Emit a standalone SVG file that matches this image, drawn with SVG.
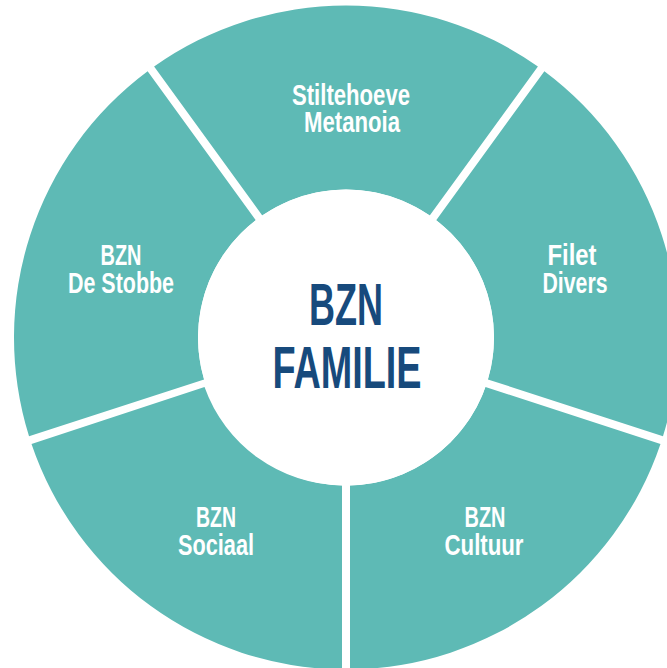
<svg xmlns="http://www.w3.org/2000/svg" width="667" height="668" viewBox="0 0 667 668">
  <style>
    .seg { fill: #5ebab5; }
    .lbl { font-family: "Liberation Sans Narrow", "Liberation Sans", Arial, sans-serif; font-weight: bold; font-size: 30px; fill: #ffffff; text-anchor: middle; }
    .hub { font-family: "Liberation Sans Narrow", "Liberation Sans", Arial, sans-serif; font-weight: bold; font-size: 59px; fill: #174a7c; text-anchor: middle; }
  </style>
  <rect width="667" height="668" fill="#ffffff"/>

  <!-- ring segments: centre (346,337.5), outer r 332, inner r 148, 8px gaps -->
  <g id="stiltehoeve-metanoia">
    <path class="seg" d="M154.10,66.58 A332,332 0 0 1 537.90,66.58 L429.72,215.46 A148,148 0 0 0 262.28,215.46 Z"/>
    <text class="lbl" x="351" y="105" textLength="118" lengthAdjust="spacingAndGlyphs">Stiltehoeve</text>
    <text class="lbl" x="352" y="132" textLength="96" lengthAdjust="spacingAndGlyphs">Metanoia</text>
  </g>
  <g id="filet-divers">
    <path class="seg" d="M544.37,71.28 A332,332 0 0 1 662.96,436.28 L487.94,379.41 A148,148 0 0 0 436.20,220.16 Z"/>
    <text class="lbl" x="572" y="265" textLength="49" lengthAdjust="spacingAndGlyphs">Filet</text>
    <text class="lbl" x="575" y="293" textLength="65" lengthAdjust="spacingAndGlyphs">Divers</text>
  </g>
  <g id="bzn-cultuur">
    <path class="seg" d="M660.49,443.89 A332,332 0 0 1 350.00,669.48 L350.00,485.45 A148,148 0 0 0 485.47,387.02 Z"/>
    <text class="lbl" x="485" y="527" textLength="41" lengthAdjust="spacingAndGlyphs">BZN</text>
    <text class="lbl" x="484" y="555" textLength="79" lengthAdjust="spacingAndGlyphs">Cultuur</text>
  </g>
  <g id="bzn-sociaal">
    <path class="seg" d="M342.00,669.48 A332,332 0 0 1 31.51,443.89 L204.53,387.02 A148,148 0 0 0 342.00,485.45 Z"/>
    <text class="lbl" x="216" y="527" textLength="40" lengthAdjust="spacingAndGlyphs">BZN</text>
    <text class="lbl" x="216" y="555" textLength="76" lengthAdjust="spacingAndGlyphs">Sociaal</text>
  </g>
  <g id="bzn-de-stobbe">
    <path class="seg" d="M29.04,436.28 A332,332 0 0 1 147.63,71.28 L255.80,220.16 A148,148 0 0 0 204.06,379.41 Z"/>
    <text class="lbl" x="121" y="265" textLength="41" lengthAdjust="spacingAndGlyphs">BZN</text>
    <text class="lbl" x="121" y="293" textLength="106" lengthAdjust="spacingAndGlyphs">De Stobbe</text>
  </g>

  <!-- hub -->
  <g id="bzn-familie">
    <circle cx="346" cy="337.5" r="148" fill="#ffffff"/>
    <text class="hub" x="346" y="325" textLength="74" lengthAdjust="spacingAndGlyphs">BZN</text>
    <text class="hub" x="347" y="388" textLength="149" lengthAdjust="spacingAndGlyphs">FAMILIE</text>
  </g>
</svg>
